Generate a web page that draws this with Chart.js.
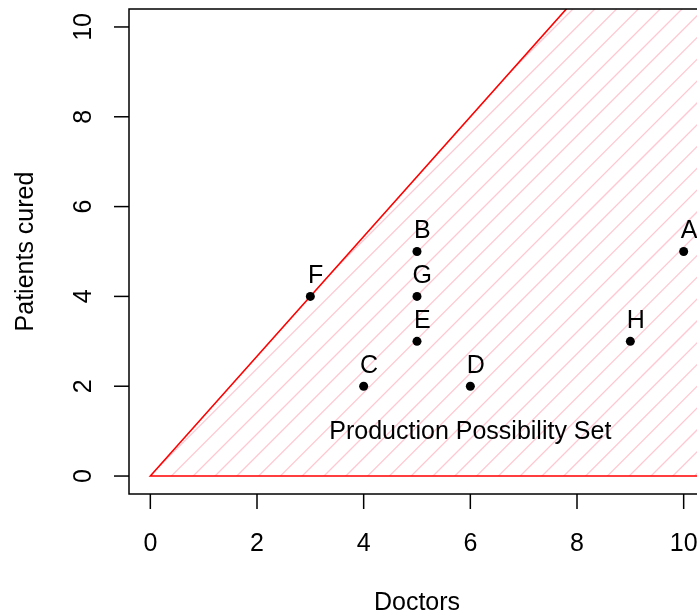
<!DOCTYPE html>
<html>
<head>
<meta charset="utf-8">
<script src="https://cdn.jsdelivr.net/npm/chart.js@4/dist/chart.umd.min.js"></script>
<style>
  html, body { margin: 0; padding: 0; background: #fff; }
  #wrap { width: 697px; height: 613px; overflow: hidden; position: relative; }
  canvas { display: block; }
</style>
</head>
<body>
<div id="wrap"><canvas id="c" width="760" height="613"></canvas></div>
<script>
// Observations: doctors employed vs patients cured
const categories = ['A', 'B', 'C', 'D', 'E', 'F', 'G', 'H'];
const doctors    = [10, 5, 4, 6, 5, 3, 5, 9];
const patients   = [5, 5, 2, 2, 3, 4, 4, 3];

// Axis ticks
const xTicks = [0, 2, 4, 6, 8, 10];
const yTicks = [0, 2, 4, 6, 8, 10];

// Production possibility set: region under the frontier through F (slope 4/3)
const setX = [0, 15, 15];
const setY = [0, 20, 0];
const setText = 'Production Possibility Set';
const setTextAt = [6, 1];

const xTitle = 'Doctors';
const yTitle = 'Patients cured';

const FONT = '25px "Liberation Sans", Arial, Helvetica, sans-serif';
const CAP = 0.716 * 25;

const regionPlugin = {
  id: 'region',
  beforeDatasetsDraw(chart) {
    const { ctx, chartArea: a, scales: { x, y } } = chart;
    const pts = setX.map((v, i) => [x.getPixelForValue(v), y.getPixelForValue(setY[i])]);
    ctx.save();
    ctx.beginPath();
    ctx.rect(a.left, a.top, a.right - a.left, a.bottom - a.top);
    ctx.clip();
    // 45-degree hatching inside the set
    ctx.save();
    ctx.beginPath();
    pts.forEach((p, i) => i ? ctx.lineTo(p[0], p[1]) : ctx.moveTo(p[0], p[1]));
    ctx.closePath();
    ctx.clip();
    ctx.strokeStyle = 'rgb(255,200,210)';
    ctx.lineWidth = 1.3;
    ctx.lineCap = 'butt';
    const step = 21.8;
    const top = a.top - 2, bottom = a.bottom + 2;
    for (let k = -20; k < 80; k++) {
      const c = 582 + k * step;          // line: px + py = c
      ctx.beginPath();
      ctx.moveTo(c - bottom, bottom);
      ctx.lineTo(c - top, top);
      ctx.stroke();
    }
    ctx.restore();
    // frontier outline
    ctx.beginPath();
    pts.forEach((p, i) => i ? ctx.lineTo(p[0], p[1]) : ctx.moveTo(p[0], p[1]));
    ctx.closePath();
    ctx.strokeStyle = '#ff0000';
    ctx.lineWidth = 1.6;
    ctx.stroke();
    ctx.restore();
  },
  afterDatasetsDraw(chart) {
    const { ctx, chartArea: a, scales: { x, y } } = chart;
    ctx.save();
    ctx.fillStyle = '#000';
    ctx.font = FONT;
    ctx.textAlign = 'center';
    ctx.textBaseline = 'alphabetic';
    // point labels
    categories.forEach((lab, i) => {
      const px = x.getPixelForValue(doctors[i] + 0.1);
      const py = y.getPixelForValue(patients[i] + 0.5);
      ctx.fillText(lab, px, py + CAP / 2);
    });
    ctx.fillText(setText, x.getPixelForValue(setTextAt[0]), y.getPixelForValue(setTextAt[1]) + CAP / 2 - 1);

    // box
    ctx.strokeStyle = '#000';
    ctx.lineWidth = 1.5;
    ctx.strokeRect(a.left, a.top, a.right - a.left, a.bottom - a.top);

    // x ticks
    xTicks.forEach(v => {
      const px = x.getPixelForValue(v);
      ctx.beginPath();
      ctx.moveTo(px, a.bottom);
      ctx.lineTo(px, a.bottom + 15);
      ctx.stroke();
      ctx.fillText(String(v), px, 551);
    });
    // y ticks
    yTicks.forEach(v => {
      const py = y.getPixelForValue(v);
      ctx.beginPath();
      ctx.moveTo(a.left, py);
      ctx.lineTo(a.left - 15, py);
      ctx.stroke();
      ctx.save();
      ctx.translate(91, py);
      ctx.rotate(-Math.PI / 2);
      ctx.fillText(String(v), 0, 0);
      ctx.restore();
    });
    // titles
    ctx.fillText(xTitle, x.getPixelForValue(5), 610);
    ctx.save();
    ctx.translate(33, y.getPixelForValue(5));
    ctx.rotate(-Math.PI / 2);
    ctx.fillText(yTitle, 0, 0);
    ctx.restore();
    ctx.restore();
  }
};

new Chart(document.getElementById('c'), {
  type: 'scatter',
  data: {
    datasets: [{
      data: doctors.map((d, i) => ({ x: d, y: patients[i] })),
      showLine: false,
      pointRadius: 4.5,
      pointHoverRadius: 4.5,
      pointBackgroundColor: '#000',
      pointBorderColor: '#000',
      pointBorderWidth: 0,
      borderWidth: 0
    }]
  },
  options: {
    responsive: false,
    animation: false,
    devicePixelRatio: 1,
    events: [],
    layout: { padding: { left: 129, top: 9, right: 55, bottom: 119 } },
    plugins: { legend: { display: false }, tooltip: { enabled: false } },
    scales: {
      x: { type: 'linear', min: -0.4, max: 10.4, display: false },
      y: { type: 'linear', min: -0.4, max: 10.4, display: false }
    }
  },
  plugins: [regionPlugin]
});
</script>
</body>
</html>
